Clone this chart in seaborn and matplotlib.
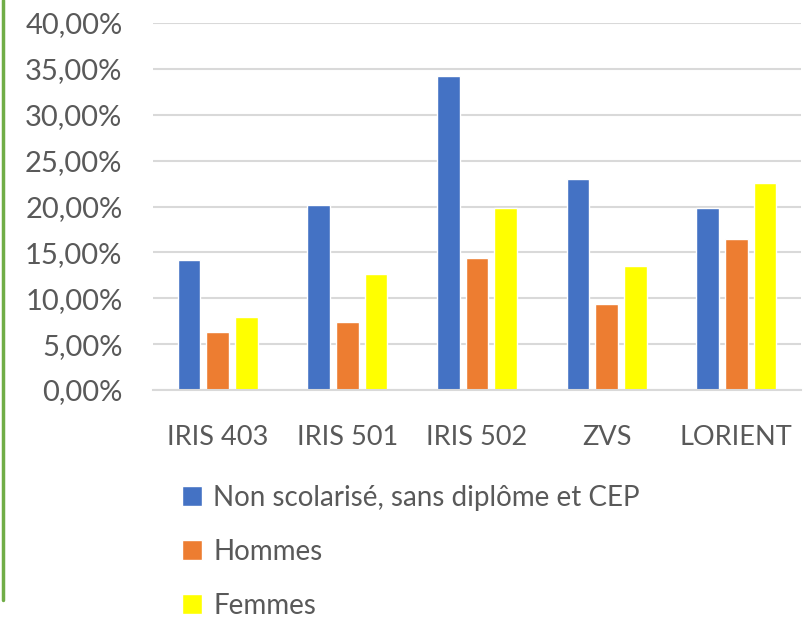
import matplotlib
matplotlib.use("Agg")
import matplotlib.pyplot as plt
import seaborn as sns
import pandas as pd
from matplotlib.ticker import FuncFormatter
from matplotlib.lines import Line2D

categories = ["IRIS 403", "IRIS 501", "IRIS 502", "ZVS", "LORIENT"]
series_names = ["Non scolarisé, sans diplôme et CEP", "Hommes", "Femmes"]
non_scolarise = [14.2, 20.2, 34.2, 23.0, 19.8]
hommes = [6.3, 7.45, 14.35, 9.4, 16.45]
femmes = [7.95, 12.65, 19.8, 13.5, 22.6]
colors = ["#4472C4", "#ED7D31", "#FFFF00"]

rows = []
for name, vals in zip(series_names, [non_scolarise, hommes, femmes]):
    for c, v in zip(categories, vals):
        rows.append({"cat": c, "serie": name, "val": v})
df = pd.DataFrame(rows)

sns.set_theme(style="white")
plt.rcParams["font.family"] = ["Lato", "DejaVu Sans"]

fig = plt.figure(figsize=(8.07, 6.17), dpi=100)
ax = fig.add_axes([0.1896, 0.3679, 0.8030, 0.5948])

sns.barplot(data=df, x="cat", y="val", hue="serie", order=categories,
            hue_order=series_names, palette=colors, width=0.664, gap=0.21,
            saturation=1, ax=ax, legend=True)

ax.set_ylim(0, 40)
ax.set_xlim(-0.5, 4.5)
ax.set_yticks(range(0, 41, 5))
ax.yaxis.set_major_formatter(FuncFormatter(lambda v, p: f"{v:.2f}".replace(".", ",") + "%"))
ax.grid(axis="y", color="#D9D9D9", linewidth=1.5)
ax.set_axisbelow(True)
for s in ["top", "right", "left"]:
    ax.spines[s].set_visible(False)
ax.spines["bottom"].set_color("#D9D9D9")
ax.spines["bottom"].set_linewidth(1.5)
ax.set_xlabel("")
ax.set_ylabel("")
ax.tick_params(axis="y", labelsize=21, colors="#595959", length=0, pad=22)
ax.tick_params(axis="x", labelsize=19.5, colors="#595959", length=0, pad=25)

handles, labels = ax.get_legend_handles_labels()
ax.get_legend().remove()
fig.legend(handles, labels, loc="upper left", bbox_to_anchor=(0.212, 0.232),
           frameon=False, fontsize=20, labelcolor="#595959", handlelength=0.72,
           handleheight=0.72, handletextpad=0.4, labelspacing=1.0, borderaxespad=0)

fig.add_artist(Line2D([0.0035, 0.0035], [1.0, 1 - 600 / 617], transform=fig.transFigure,
                      color="#70AD47", linewidth=2.5))

fig.savefig("out.png", dpi=100)
